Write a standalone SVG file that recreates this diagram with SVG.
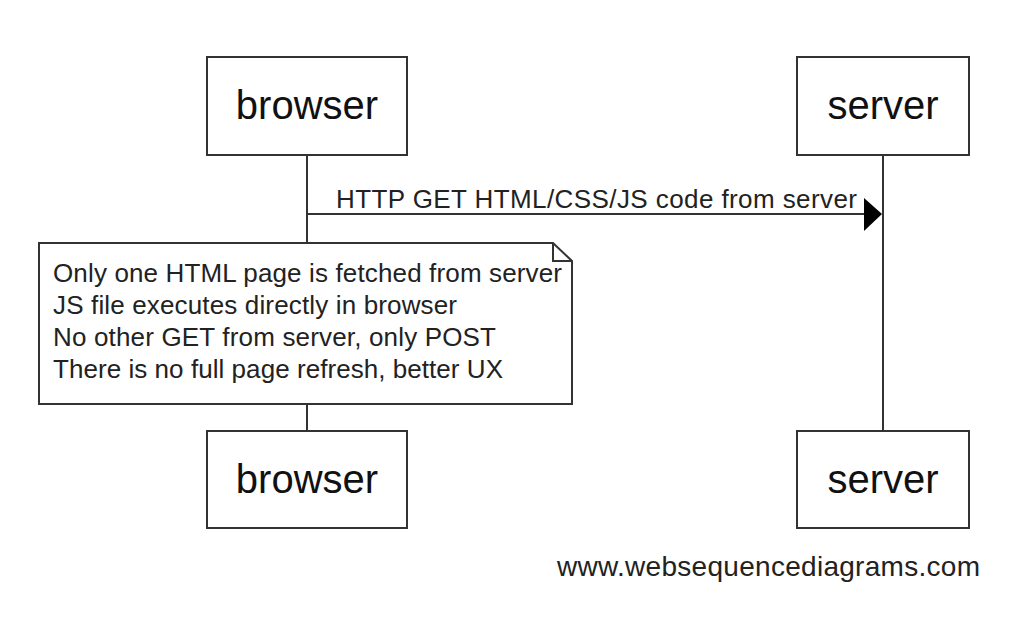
<svg xmlns="http://www.w3.org/2000/svg" width="1032" height="618" viewBox="0 0 1032 618">
<style>
.box{fill:#fff;stroke:#333;stroke-width:2}
.life{stroke:#333;stroke-width:2;fill:none}
.lbl{font-family:"Liberation Sans",Arial,sans-serif;font-size:40px;fill:#111;text-anchor:middle}
.txt{font-family:"Liberation Sans",Arial,sans-serif;font-size:26px;fill:#222}
.foot{font-family:"Liberation Sans",Arial,sans-serif;font-size:28px;fill:#222}
</style>
<rect width="1032" height="618" fill="#fff"/>
<g id="lifelines">
<line class="life" x1="307" y1="155" x2="307" y2="431"/>
<line class="life" x1="883" y1="155" x2="883" y2="431"/>
</g>
<g id="browser-top"><rect class="box" x="207" y="57" width="200" height="98"/><text class="lbl" x="307" y="119">browser</text></g>
<g id="server-top"><rect class="box" x="797" y="57" width="172" height="98"/><text class="lbl" x="883" y="119">server</text></g>
<g id="connectors">
<line class="life" x1="307" y1="214" x2="866" y2="214"/>
<polygon points="864,198 882,214 864,231" fill="#000"/>
<text class="txt" x="336" y="208" textLength="521">HTTP GET HTML/CSS/JS code from server</text>
</g>
<g id="note">
<path class="box" d="M39,243 H553 L572,261 V404 H39 Z"/>
<path class="life" d="M553,243 V261 H572"/>
<text class="txt" x="53" y="282" textLength="509">Only one HTML page is fetched from server</text>
<text class="txt" x="53" y="314" textLength="404">JS file executes directly in browser</text>
<text class="txt" x="53" y="346" textLength="443">No other GET from server, only POST</text>
<text class="txt" x="53" y="378" textLength="450">There is no full page refresh, better UX</text>
</g>
<g id="browser-bottom"><rect class="box" x="207" y="431" width="200" height="97"/><text class="lbl" x="307" y="493">browser</text></g>
<g id="server-bottom"><rect class="box" x="797" y="431" width="172" height="97"/><text class="lbl" x="883" y="493">server</text></g>
<text class="foot" x="557" y="576" textLength="423">www.websequencediagrams.com</text>
</svg>
